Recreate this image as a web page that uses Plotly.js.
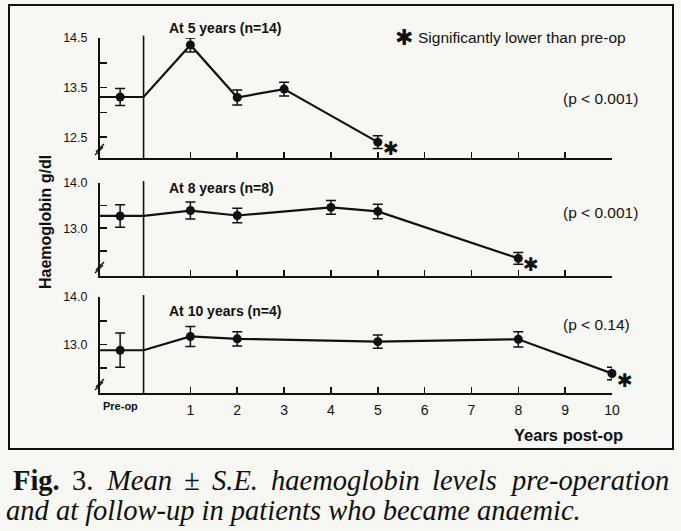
<!DOCTYPE html>
<html>
<head>
<meta charset="utf-8">
<script src="https://cdn.plot.ly/plotly-3.0.1.min.js"></script>
<style>html,body{margin:0;padding:0;background:#f7f7f4;}</style>
</head>
<body>
<div id="chart" style="width:681px;height:531px;"></div>
<script>
// ---- data ----
const yearTicks = [1, 2, 3, 4, 5, 6, 7, 8, 9, 10];
const yearLabels = ['1', '2', '3', '4', '5', '6', '7', '8', '9', '10'];
const preopLabel = 'Pre-op';

// At 5 years (n=14)
const years5 = [1, 2, 3, 5];
const mean5 = [14.36, 13.30, 13.47, 12.40];
const se5 = [0.14, 0.15, 0.14, 0.13];
const pre5 = 13.31;
const preSE5 = 0.17;

// At 8 years (n=8)
const years8 = [1, 2, 4, 5, 8];
const mean8 = [13.39, 13.28, 13.46, 13.37, 12.33];
const se8 = [0.19, 0.16, 0.15, 0.16, 0.13];
const pre8 = 13.27;
const preSE8 = 0.25;

// At 10 years (n=4)
const years10 = [1, 2, 5, 8, 10];
const mean10 = [13.17, 13.12, 13.06, 13.11, 12.39];
const se10 = [0.21, 0.15, 0.14, 0.16, 0.13];
const pre10 = 12.88;
const preSE10 = 0.36;

const panelTitles = ['At 5 years (n=14)', 'At 8 years (n=8)', 'At 10 years (n=4)'];
const pValues = ['(p &lt; 0.001)', '(p &lt; 0.001)', '(p &lt; 0.14)'];

// caption words (line 1 is justified in the original)
const captionWords1 = ['Fig.', '3.', 'Mean', '±', 'S.E.', 'haemoglobin', 'levels', 'pre-operation'];
const captionStyles1 = ['bold', 'normal', 'italic', 'italic', 'italic', 'italic', 'italic', 'italic'];
const captionLine2 = 'and at follow-up in patients who became anaemic.';

// ---- layout helpers ----
const W = 681, H = 531;
const px = x => x / W;
const py = y => 1 - y / H;
const X_MIN = -0.93, X_MAX = 10.0, PRE_X = -0.5, SPLIT_X = 0;
const INK = '#111111';
const BG = '#f7f7f4';
const SANS = 'Liberation Sans, Arial, sans-serif';
const SERIF = 'Liberation Serif, Times New Roman, serif';
const CAP_SIZE = 28.5;

const panels = [
  {xs: years5, m: mean5, se: se5, pre: pre5, preSE: preSE5, xa: 'x', ya: 'y', top: 38, bot: 158, range: [12.08, 14.5],
   tv: [12.5, 13.0, 13.5, 14.0, 14.5], tt: ['12.5', '', '13.5', '', '14.5'], titleY: 28, pY: 99},
  {xs: years8, m: mean8, se: se8, pre: pre8, preSE: preSE8, xa: 'x2', ya: 'y2', top: 183, bot: 276, range: [11.94, 14.0],
   tv: [12.5, 13.0, 13.5, 14.0], tt: ['', '13.0', '', '14.0'], titleY: 188, pY: 213},
  {xs: years10, m: mean10, se: se10, pre: pre10, preSE: preSE10, xa: 'x3', ya: 'y3', top: 297, bot: 393, range: [11.98, 14.0],
   tv: [12.5, 13.0, 13.5, 14.0], tt: ['', '13.0', '', '14.0'], titleY: 311, pY: 324}
];

const data = [];
const shapes = [];
const annotations = [];
const layout = {
  width: W, height: H,
  margin: {l: 0, r: 0, t: 0, b: 0},
  paper_bgcolor: BG, plot_bgcolor: BG,
  showlegend: false,
  font: {family: SANS, color: INK},
  shapes: shapes, annotations: annotations
};

panels.forEach((p, i) => {
  const sfx = i === 0 ? '' : String(i + 1);
  const last = i === 2;
  layout['xaxis' + sfx] = {
    domain: [px(100), px(612)], range: [X_MIN, X_MAX], anchor: p.ya,
    showline: true, linewidth: 2, linecolor: INK, mirror: false,
    ticks: 'inside', ticklen: 6, tickwidth: 1.6, tickcolor: INK,
    tickvals: yearTicks, ticktext: yearLabels, showticklabels: last,
    tickfont: {size: 14, family: SANS, color: INK}, ticklabelstandoff: 3,
    showgrid: false, zeroline: false, fixedrange: true
  };
  layout['yaxis' + sfx] = {
    domain: [py(p.bot), py(p.top)], range: p.range, anchor: p.xa,
    showline: true, linewidth: 2, linecolor: INK,
    ticks: 'inside', ticklen: 7, tickwidth: 1.6, tickcolor: INK,
    tickvals: p.tv, ticktext: p.tt, tickfont: {size: 12.5, family: SANS, color: INK},
    ticklabelstandoff: 8,
    showgrid: false, zeroline: false, fixedrange: true
  };
  data.push({
    type: 'scatter', mode: 'lines', xaxis: p.xa, yaxis: p.ya, cliponaxis: false,
    x: [X_MIN, PRE_X, SPLIT_X].concat(p.xs),
    y: [p.pre, p.pre, p.pre].concat(p.m),
    line: {color: INK, width: 2.2}, hoverinfo: 'skip'
  });
  data.push({
    type: 'scatter', mode: 'markers', xaxis: p.xa, yaxis: p.ya, cliponaxis: false,
    x: [PRE_X].concat(p.xs), y: [p.pre].concat(p.m),
    marker: {color: INK, size: 9, symbol: 'circle'},
    error_y: {type: 'data', array: [p.preSE].concat(p.se), visible: true, color: INK, thickness: 1.5, width: 5}
  });
  shapes.push({type: 'line', xref: p.xa, yref: p.ya + ' domain', x0: SPLIT_X, x1: SPLIT_X, y0: 0, y1: 1.02,
    line: {color: INK, width: 1.6}});
  const by = p.bot - 11;
  shapes.push({type: 'line', xref: 'paper', yref: 'paper', x0: px(96), x1: px(104), y0: py(by + 5), y1: py(by - 3),
    line: {color: INK, width: 1.4}});
  shapes.push({type: 'line', xref: 'paper', yref: 'paper', x0: px(95), x1: px(103), y0: py(by + 8), y1: py(by),
    line: {color: INK, width: 1.4}});
  annotations.push({xref: 'paper', yref: 'paper', x: px(167), y: py(p.titleY),
    xanchor: 'left', yanchor: 'middle', showarrow: false, text: '<b>' + panelTitles[i] + '</b>',
    font: {size: 14, family: SANS, color: INK}});
  annotations.push({xref: 'paper', yref: 'paper', x: px(561), y: py(p.pY),
    xanchor: 'left', yanchor: 'middle', showarrow: false, text: pValues[i],
    font: {size: 15.5, family: SANS, color: INK}});
  annotations.push({xref: p.xa, yref: p.ya, x: p.xs[p.xs.length - 1], y: p.m[p.m.length - 1],
    xshift: 13, yshift: -6, showarrow: false, text: '✱',
    font: {size: 19, family: 'DejaVu Sans', color: INK}});
});

annotations.push({xref: 'paper', yref: 'paper', x: px(404), y: py(37), xanchor: 'center', yanchor: 'middle',
  showarrow: false, text: '✱', font: {size: 22, family: 'DejaVu Sans', color: INK}});
annotations.push({xref: 'paper', yref: 'paper', x: px(416), y: py(37), xanchor: 'left', yanchor: 'middle',
  showarrow: false, text: 'Significantly lower than pre-op', font: {size: 15.5, family: SANS, color: INK}});

annotations.push({xref: 'x3', yref: 'paper', x: PRE_X, y: py(406), xanchor: 'center', yanchor: 'middle',
  showarrow: false, text: '<b>' + preopLabel + '</b>', font: {size: 11, family: SANS, color: INK}});

annotations.push({xref: 'paper', yref: 'paper', x: px(568), y: py(435), xanchor: 'center', yanchor: 'middle',
  showarrow: false, text: '<b>Years post-op</b>', font: {size: 16.5, family: SANS, color: INK}});
annotations.push({xref: 'paper', yref: 'paper', x: px(46), y: py(222), xanchor: 'center', yanchor: 'middle',
  showarrow: false, text: '<b>Haemoglobin g/dl</b>', textangle: -90, font: {size: 16, family: SANS, color: INK}});

shapes.push({type: 'rect', xref: 'paper', yref: 'paper', x0: px(9), x1: px(673), y0: py(449), y1: py(5),
  line: {color: INK, width: 2}, fillcolor: 'rgba(0,0,0,0)'});

// caption: line 1 justified between x=11 and x=665 using measured word widths
const ctx = document.createElement('canvas').getContext('2d');
const widths = captionWords1.map((w, k) => {
  const st = captionStyles1[k];
  ctx.font = (st === 'italic' ? 'italic ' : '') + (st === 'bold' ? 'bold ' : '') + CAP_SIZE + 'px "Liberation Serif"';
  return ctx.measureText(w).width;
});
const L1 = 11, R1 = 665;
const gap = (R1 - L1 - widths.reduce((a, b) => a + b, 0)) / (captionWords1.length - 1);
let cx = L1;
captionWords1.forEach((w, k) => {
  const st = captionStyles1[k];
  const txt = st === 'bold' ? '<b>' + w + '</b>' : st === 'italic' ? '<i>' + w + '</i>' : w;
  annotations.push({xref: 'paper', yref: 'paper', x: px(cx), y: py(480),
    xanchor: 'left', yanchor: 'middle', showarrow: false, text: txt,
    font: {size: CAP_SIZE, family: SERIF, color: INK}});
  cx += widths[k] + gap;
});
annotations.push({xref: 'paper', yref: 'paper', x: px(4), y: py(510), xanchor: 'left', yanchor: 'middle',
  showarrow: false, text: '<i>' + captionLine2 + '</i>', font: {size: CAP_SIZE, family: SERIF, color: INK}});

Plotly.newPlot('chart', data, layout, {staticPlot: true, displayModeBar: false});
</script>
</body>
</html>
